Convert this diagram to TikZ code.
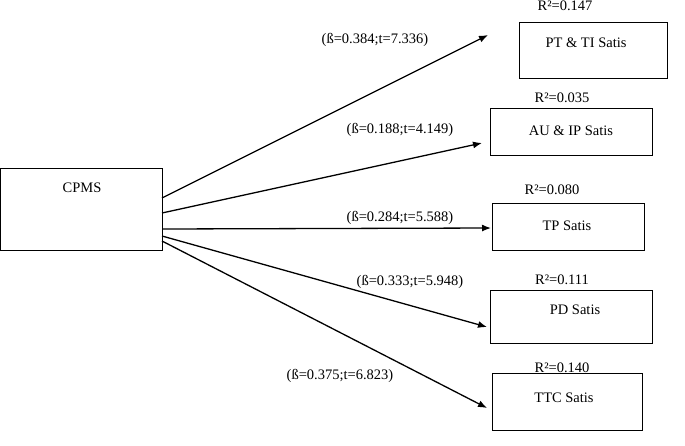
\documentclass[tikz,border=0pt]{standalone}
\usepackage{fontspec}
\usetikzlibrary{arrows.meta}
\setmainfont{Liberation Serif}
\begin{document}
\begin{tikzpicture}[x=1pt,y=-1pt,
  lab/.style={font=\fontsize{14.5}{16}\selectfont,inner sep=0pt},
  arr/.style={-{Latex[length=9pt,width=7pt]},line width=1.3pt}]
\useasboundingbox (0,0) rectangle (685,445);
\draw[line width=0.6pt] (0,168) rectangle (162,250);
\coordinate (c1) at (162,198);
\coordinate (c2) at (162,213);
\coordinate (c3) at (162,229);
\coordinate (c4) at (162,236);
\coordinate (c5) at (162,241);
\node[lab] (cpms) at (82,188) {CPMS};
\draw[line width=0.6pt] (519,22) rectangle (667,78);
\node[lab] (b1) at (586,43) {PT \& TI Satis};
\draw[line width=0.6pt] (490,108) rectangle (652,155);
\node[lab] (b2) at (571,131) {AU \& IP Satis};
\draw[line width=0.6pt] (492,203) rectangle (644,250);
\node[lab] (b3) at (567,226) {TP Satis};
\draw[line width=0.6pt] (490,290) rectangle (652,343);
\node[lab] (b4) at (575,310) {PD Satis};
\draw[line width=0.6pt] (492,373) rectangle (642,430);
\node[lab] (b5) at (564,398) {TTC Satis};
\coordinate (e1) at (488,35);
\coordinate (e2) at (482,143);
\coordinate (e3) at (491,228);
\coordinate (e4) at (487,327);
\coordinate (e5) at (487,408);
\draw[arr] (c1) -- (e1);
\draw[arr] (c2) -- (e2);
\draw[arr] (c3) -- (e3);
\draw[arr] (c4) -- (e4);
\draw[arr] (c5) -- (e5);
\node[lab] (l1) at (375,40) {(ß=0.384;t=7.336)};
\node[lab] (l2) at (400,130) {(ß=0.188;t=4.149)};
\node[lab] (l3) at (400,218) {(ß=0.284;t=5.588)};
\node[lab] (l4) at (410,282) {(ß=0.333;t=5.948)};
\node[lab] (l5) at (340,376) {(ß=0.375;t=6.823)};
\node[lab] (r1) at (565,6) {R²=0.147};
\node[lab] (r2) at (562,98) {R²=0.035};
\node[lab] (r3) at (552,190) {R²=0.080};
\node[lab] (r4) at (562,280) {R²=0.111};
\node[lab] (r5) at (562,368) {R²=0.140};
\end{tikzpicture}
\end{document}
